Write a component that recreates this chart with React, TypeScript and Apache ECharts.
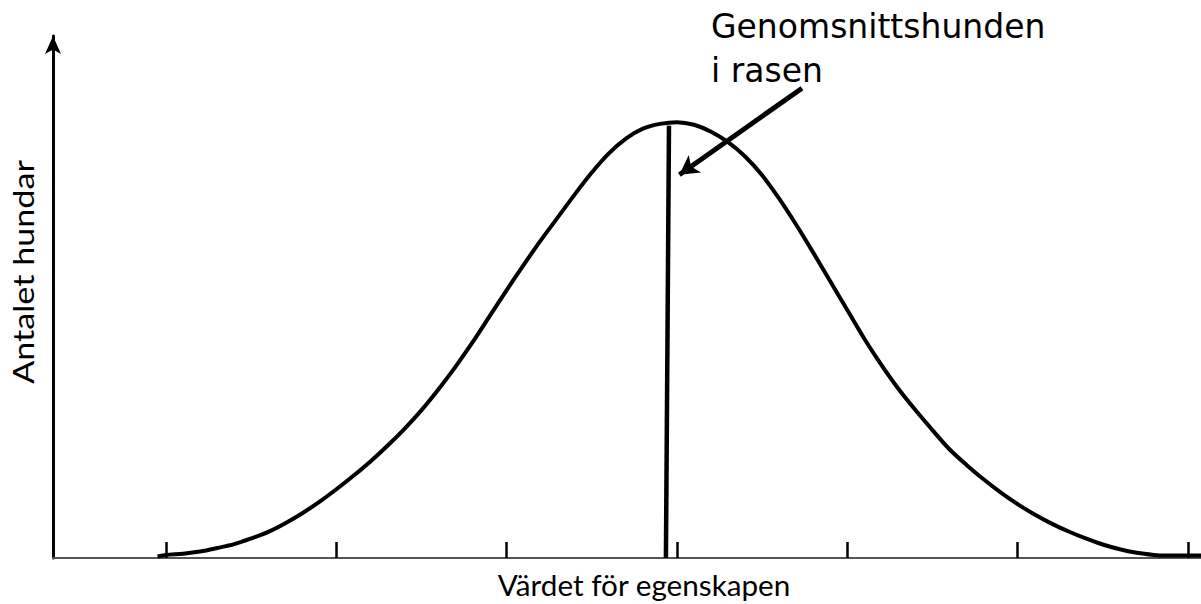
import React, { useEffect, useRef } from "react";
import * as echarts from "echarts";

// Position along the trait axis (in standard-deviation steps, 0 = breed average)
const xValues = [
  -3.05, -3.0, -2.9, -2.8, -2.7, -2.6, -2.5, -2.4, -2.3, -2.2,
  -2.1, -2.0, -1.9, -1.8, -1.7, -1.6, -1.5, -1.4, -1.3, -1.2,
  -1.1, -1.0, -0.9, -0.8, -0.7, -0.6, -0.5, -0.4, -0.3, -0.2,
  -0.1, 0.0, 0.1, 0.2, 0.3, 0.4, 0.5, 0.6, 0.7, 0.8,
  0.9, 1.0, 1.1, 1.2, 1.3, 1.4, 1.5, 1.6, 1.7, 1.8,
  1.9, 2.0, 2.1, 2.2, 2.3, 2.4, 2.5, 2.6, 2.7, 2.8,
  2.86, 3.077,
];
// Number of dogs (relative)
const yValues = [
  0.35, 0.7, 1.0, 1.5, 2.3, 3.2, 4.5, 6.0, 8.0, 10.3,
  12.9, 15.8, 18.9, 22.2, 25.8, 29.7, 34.0, 38.8, 44.0, 49.6,
  55.6, 61.6, 67.4, 73.0, 78.3, 83.6, 88.6, 93.0, 96.4, 98.7,
  99.8, 100.2, 99.6, 98.0, 95.6, 92.3, 88.0, 82.6, 76.6, 70.2,
  63.6, 57.0, 50.4, 44.4, 38.9, 34.0, 29.4, 25.0, 21.4, 18.1,
  15.1, 12.4, 10.0, 7.9, 6.1, 4.5, 3.1, 2.0, 1.2, 0.7,
  0.55, 0.55,
];
const tickValues = [-3, -2, -1, 0, 1, 2, 3];
const meanLineX = [-0.065, -0.047];
const meanLineY = [0, 99.4];
const arrowStart = [0.734, 108.0];
const arrowEnd = [0.014, 88.1];

const xMin = -3.664;
const xMax = 3.077;
const yMax = 120;

const annotationText = "Genomsnittshunden\ni rasen";
const xAxisTitle = "Värdet för egenskapen";
const yAxisTitle = "Antalet hundar";

export default function App() {
  const ref = useRef<HTMLDivElement>(null);
  useEffect(() => {
    if (!ref.current) return;
    const chart = echarts.init(ref.current, undefined, { renderer: "svg" });
    const curve = xValues.map((x, i) => [x, yValues[i]]);
    const meanLine = meanLineX.map((x, i) => [x, meanLineY[i]]);
    chart.setOption({
      animation: false,
      backgroundColor: "#ffffff",
      grid: { left: 53, right: 0, top: 36, bottom: 46, outerBoundsMode: "none", containLabel: false },
      xAxis: {
        type: "value",
        min: xMin,
        max: xMax,
        axisLine: { show: true, onZero: false, lineStyle: { color: "#555555", width: 2 } },
        axisTick: {
          show: true,
          inside: true,
          length: 16,
          customValues: tickValues,
          lineStyle: { color: "#000000", width: 2.5 },
        },
        axisLabel: { show: false },
        splitLine: { show: false },
      },
      yAxis: {
        type: "value",
        min: 0,
        max: yMax,
        axisLine: {
          show: true,
          onZero: false,
          symbol: ["none", "arrow"],
          symbolSize: [12, 18],
          lineStyle: { color: "#000000", width: 3 },
        },
        axisTick: { show: false },
        axisLabel: { show: false },
        splitLine: { show: false },
      },
      series: [
        {
          type: "line",
          data: curve,
          smooth: 0.3,
          showSymbol: false,
          lineStyle: { color: "#000000", width: 4 },
          z: 3,
        },
        {
          type: "line",
          data: meanLine,
          showSymbol: false,
          lineStyle: { color: "#000000", width: 4.5 },
          z: 4,
          markLine: {
            silent: true,
            symbol: ["none", "arrow"],
            symbolSize: [16, 19],
            label: { show: false },
            lineStyle: { color: "#000000", width: 5, type: "solid" },
            data: [[{ coord: arrowStart }, { coord: arrowEnd }]],
          },
        },
      ],
      graphic: [
        {
          type: "text",
          x: 711,
          y: 4,
          style: {
            text: annotationText,
            font: '33px "DejaVu Sans"',
            fill: "#000000",
            lineHeight: 44,
            align: "left",
            verticalAlign: "top",
          },
        },
        {
          type: "text",
          x: 644,
          y: 585,
          scaleX: 1.06,
          style: {
            text: xAxisTitle,
            font: "28px Lato",
            fill: "#000000",
            align: "center",
            verticalAlign: "middle",
          },
        },
        {
          type: "text",
          x: 23,
          y: 272,
          rotation: Math.PI / 2,
          scaleX: 1.22,
          style: {
            text: yAxisTitle,
            font: "28px Lato",
            fill: "#000000",
            align: "center",
            verticalAlign: "middle",
          },
        },
      ],
    });
    return () => chart.dispose();
  }, []);
  return (
    <div
      ref={ref}
      style={{ position: "fixed", left: 0, top: 0, width: 1201, height: 604 }}
    />
  );
}
